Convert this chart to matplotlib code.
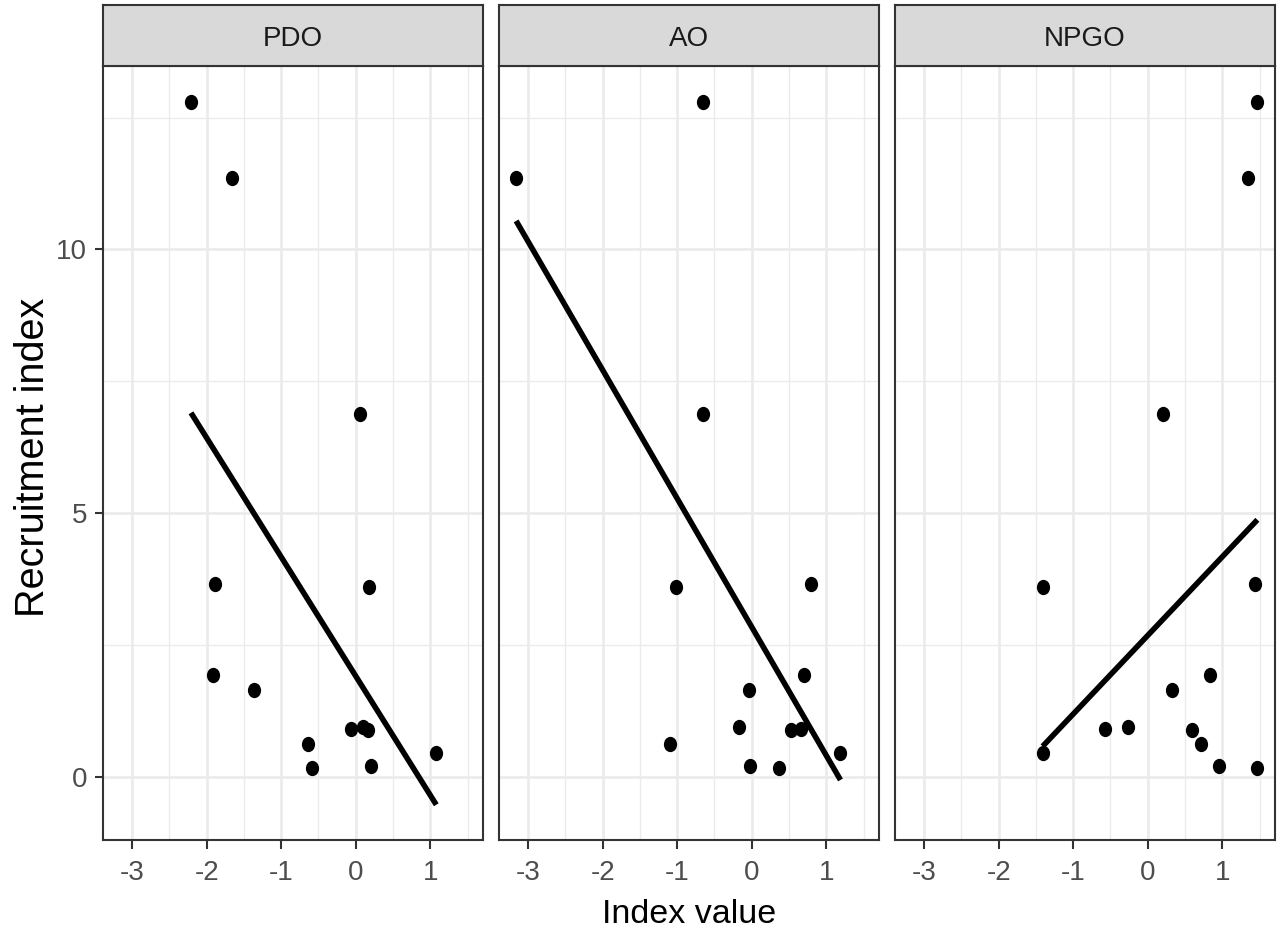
import numpy as np
import matplotlib
matplotlib.use("Agg")
import matplotlib.pyplot as plt
from matplotlib import font_manager as fm
from matplotlib.path import Path
from matplotlib.transforms import Affine2D

# ---------------- data ----------------
panels = ["PDO", "AO", "NPGO"]
recruitment = [12.80, 11.36, 6.88, 3.65, 3.60, 1.92, 1.65, 0.94, 0.91, 0.89, 0.62, 0.45, 0.21, 0.16]
pdo = [-2.21, -1.66, 0.06, -1.89, 0.18, -1.91, -1.36, 0.10, -0.07, 0.16, -0.64, 1.08, 0.20, -0.59]
ao = [-0.66, -3.16, -0.66, 0.80, -1.01, 0.70, -0.04, -0.17, 0.66, 0.52, -1.09, 1.19, -0.03, 0.37]
npgo = [1.47, 1.35, 0.20, 1.44, -1.40, 0.84, 0.33, -0.26, -0.57, 0.59, 0.72, -1.41, 0.95, 1.46]
x_ticks = [-3, -2, -1, 0, 1]
y_ticks = [0, 5, 10]
x_label = "Index value"
y_label = "Recruitment index"

# ---------------- fonts ----------------
avail = {f.name for f in fm.fontManager.ttflist}
if "Liberation Sans Narrow" in avail:
    family = ["Liberation Sans Narrow", "DejaVu Sans"]
    small, big, ybig = 22, 27.5, 28.5
else:
    family = ["Liberation Sans", "DejaVu Sans"]
    small, big, ybig = 20, 24.5, 28.5
plt.rcParams["font.family"] = family

W, H = 1278, 932
fig = plt.figure(figsize=(W / 100, H / 100), dpi=100)


def fx(px):
    return px / W


def fy(py):
    return 1 - py / H


dark = "#333333"
grid_c = "#EBEBEB"
ellipse = Path.unit_circle().transformed(Affine2D().scale(0.85, 1.0))

series = [pdo, ao, npgo]
lefts = [103, 499, 895]
pw = 379.5
top, bottom, strip_top = 66, 840, 5

for i, (name, xs) in enumerate(zip(panels, series)):
    l = lefts[i]
    ax = fig.add_axes([fx(l), fy(bottom), pw / W, (bottom - top) / H])
    ax.set_xlim(-3.39, 1.70)
    ax.set_ylim(-1.2, 13.48)
    ax.set_facecolor("white")
    # grid
    ax.set_xticks(x_ticks)
    ax.set_yticks(y_ticks)
    ax.set_xticks([-2.5, -1.5, -0.5, 0.5, 1.5], minor=True)
    ax.set_yticks([2.5, 7.5, 12.5], minor=True)
    ax.grid(which="major", color=grid_c, linewidth=1.9, zorder=0)
    ax.grid(which="minor", color=grid_c, linewidth=1.0, zorder=0)
    ax.set_axisbelow(True)
    ax.tick_params(which="minor", length=0)
    ax.tick_params(axis="x", which="major", length=6.5, width=1.5, color=dark,
                   pad=8, labelsize=small, labelcolor="#4D4D4D")
    if i == 0:
        ax.tick_params(axis="y", which="major", length=6, width=1.5, color=dark,
                       pad=5.5, labelsize=small, labelcolor="#4D4D4D")
    else:
        ax.tick_params(axis="y", which="major", left=False, labelleft=False)
    ax.set_xticklabels([str(t) for t in x_ticks])
    for sp in ax.spines.values():
        sp.set_color(dark)
        sp.set_linewidth(1.5)
        sp.set_zorder(10)

    # points
    ax.plot(xs, recruitment, linestyle="none", marker=ellipse, markersize=10,
            color="black", zorder=3)
    # linear fit
    xa = np.array(xs)
    ya = np.array(recruitment)
    slope, intercept = np.polyfit(xa, ya, 1)
    xl = np.array([xa.min(), xa.max()])
    ax.plot(xl, intercept + slope * xl, color="black", linewidth=4.0,
            solid_capstyle="butt", zorder=4)

    # strip
    sx = fig.add_axes([fx(l), fy(top), pw / W, (top - strip_top) / H])
    sx.set_facecolor("#D9D9D9")
    sx.set_xticks([])
    sx.set_yticks([])
    for sp in sx.spines.values():
        sp.set_color(dark)
        sp.set_linewidth(1.5)
    sx.text(0.5, 0.32, name, ha="center", va="baseline", fontsize=small,
            color="#1A1A1A", transform=sx.transAxes)

fig.text(fx(689), fy(923), x_label, ha="center", va="baseline", fontsize=big,
         color="black")
fig.text(fx(44), fy(457), y_label, ha="center", va="baseline", rotation=90,
         rotation_mode="anchor", fontsize=ybig, color="black")

fig.savefig("out.png", dpi=100)
